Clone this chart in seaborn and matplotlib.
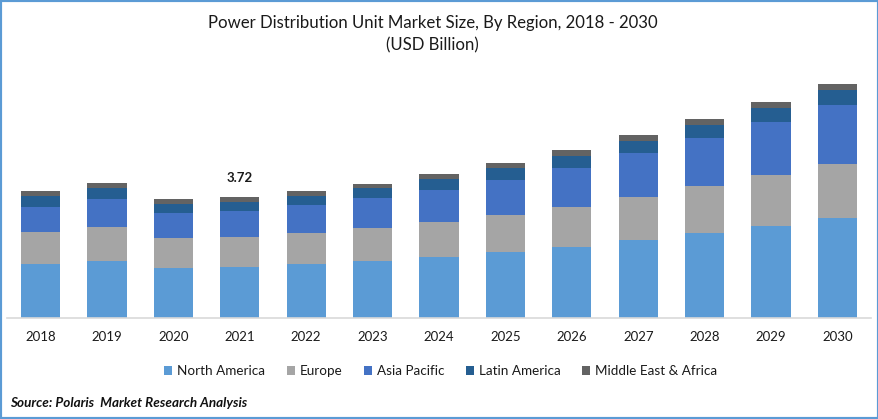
import matplotlib
matplotlib.use("Agg")
import matplotlib.pyplot as plt
import pandas as pd
import seaborn as sns
from matplotlib.patches import Rectangle

years = ["2018", "2019", "2020", "2021", "2022", "2023", "2024", "2025", "2026", "2027", "2028", "2029", "2030"]
north_america = [1.66, 1.75, 1.54, 1.57, 1.66, 1.75, 1.88, 2.03, 2.18, 2.40, 2.61, 2.83, 3.07]
europe = [0.98, 1.05, 0.92, 0.92, 0.95, 1.01, 1.08, 1.14, 1.23, 1.32, 1.44, 1.57, 1.66]
asia_pacific = [0.77, 0.86, 0.77, 0.80, 0.86, 0.92, 0.98, 1.08, 1.20, 1.35, 1.48, 1.63, 1.81]
latin_america = [0.34, 0.34, 0.28, 0.28, 0.28, 0.31, 0.34, 0.37, 0.37, 0.37, 0.40, 0.43, 0.46]
middle_east = [0.15, 0.15, 0.15, 0.15, 0.15, 0.12, 0.15, 0.15, 0.18, 0.18, 0.18, 0.18, 0.18]

regions = {
    "North America": (north_america, "#5B9BD5"),
    "Europe": (europe, "#A5A5A5"),
    "Asia Pacific": (asia_pacific, "#4472C4"),
    "Latin America": (latin_america, "#255E91"),
    "Middle East & Africa": (middle_east, "#636363"),
}

sns.set_theme(style="white")
plt.rcParams["font.family"] = ["Lato", "DejaVu Sans"]

W, H = 879, 419
fig = plt.figure(figsize=(W / 100, H / 100), dpi=100, facecolor="white")
# axes placed in pixels: baseline at y=318, runs x=7 to x=871
ax = fig.add_axes([7.3 / W, 1 - 318 / H, (870.7 - 7.3) / W, 248 / H])

df = pd.DataFrame({"year": years})
bottom = [0.0] * len(years)
for name, (values, color) in regions.items():
    df[name] = values
    sns.barplot(data=df, x="year", y=name, color=color, width=0.59, bottom=bottom,
                saturation=1, label=name, ax=ax, legend=False, linewidth=0)
    bottom = [b + v for b, v in zip(bottom, values)]

ax.set_xlim(-0.5, 12.5)
ax.set_ylim(0, 7.62)
ax.set_xlabel("")
ax.set_ylabel("")
ax.set_yticks([])
ax.tick_params(axis="x", length=0, pad=9, labelsize=9.5, labelcolor="#1a1a1a")
sns.despine(ax=ax, left=True)
ax.spines["bottom"].set_color("#D9D9D9")
ax.spines["bottom"].set_linewidth(1.2)

# only 2021 is labelled
ax.text(3, bottom[3] + 0.39, "3.72", ha="center", va="bottom", fontsize=9.5,
        fontweight="bold", color="#1a1a1a")

fig.text(432.5 / W, 1 - 23 / H, "Power Distribution Unit Market Size, By Region, 2018 - 2030",
         ha="center", va="center", fontsize=12.1, color="#1a1a1a")
fig.text(432 / W, 1 - 45 / H, "(USD Billion)", ha="center", va="center", fontsize=12.1, color="#1a1a1a")

handles, labels = ax.get_legend_handles_labels()
fig.legend(handles, labels, ncol=5, loc="center", bbox_to_anchor=(440.5 / W, 1 - 371 / H),
           frameon=False, fontsize=9.7, handlelength=0.62, handleheight=0.62,
           handletextpad=0.32, columnspacing=1.62, labelcolor="#1a1a1a")

fig.text(10 / W, 1 - 403 / H, "Source: Polaris  Market Research Analysis", ha="left", va="center",
         fontsize=9.7, fontweight="bold", fontstyle="italic", color="#111111")

# blue frame around the picture
fig.add_artist(Rectangle((0, 0), 1, 1, transform=fig.transFigure, fill=False,
                         edgecolor="#5B9BD5", linewidth=3))

fig.savefig("out.png", dpi=100, facecolor="white")
